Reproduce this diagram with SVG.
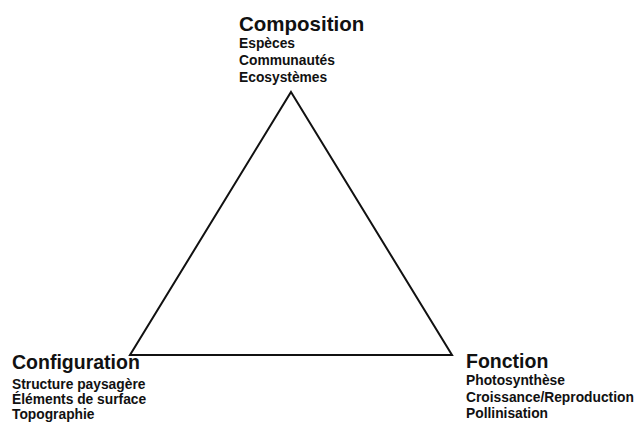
<svg xmlns="http://www.w3.org/2000/svg" width="636" height="423" viewBox="0 0 636 423">
<style>
text{font-family:"Liberation Sans",Arial,sans-serif;font-weight:bold;fill:#111}
.h{font-size:19.5px}
.s{font-size:13.8px}
.edge{fill:none;stroke:#111;stroke-width:2;stroke-linejoin:miter}
</style>
<rect width="636" height="423" fill="#fff"/>
<g id="connectors">
<polygon class="edge" points="291,92 452,355 130,355"/>
</g>
<g id="composition">
<text class="h" x="239" y="31" style="font-size:20.5px">Composition</text>
<text class="s" x="239" y="48">Espèces</text>
<text class="s" x="239" y="65">Communautés</text>
<text class="s" x="239" y="82">Ecosystèmes</text>
</g>
<g id="configuration">
<text class="h" x="12" y="369">Configuration</text>
<text class="s" x="12" y="389">Structure paysagère</text>
<text class="s" x="12" y="404">Éléments de surface</text>
<text class="s" x="12" y="419">Topographie</text>
</g>
<g id="fonction">
<text class="h" x="466" y="368">Fonction</text>
<text class="s" x="466" y="385">Photosynthèse</text>
<text class="s" x="466" y="402">Croissance/Reproduction</text>
<text class="s" x="466" y="418">Pollinisation</text>
</g>
</svg>
